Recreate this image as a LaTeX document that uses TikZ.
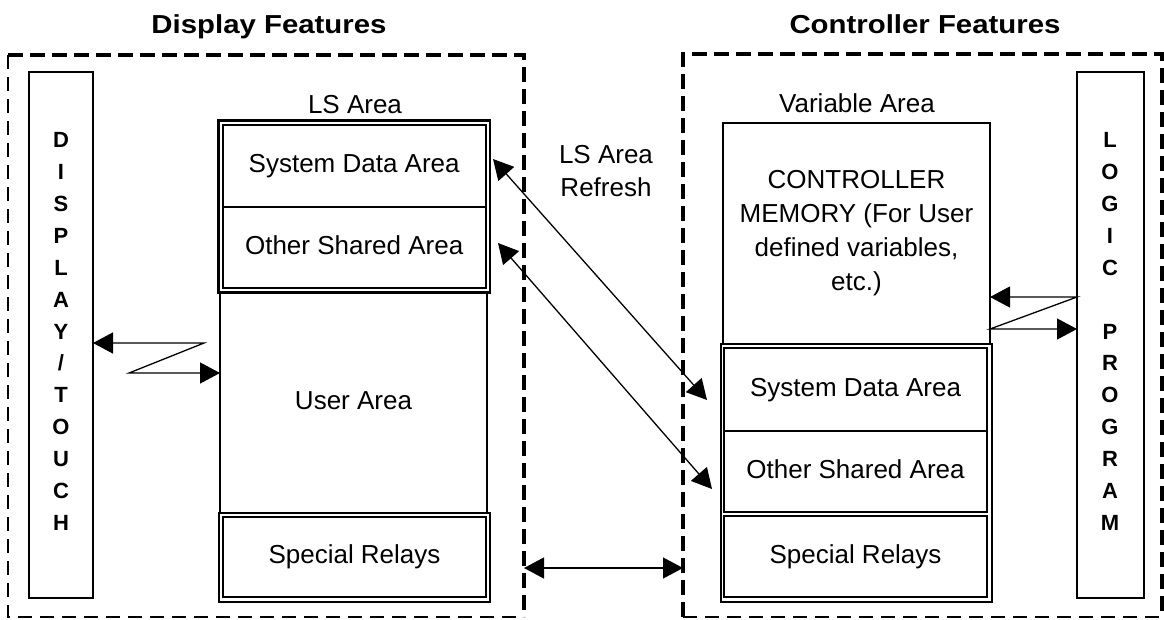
\documentclass[tikz,border=0pt]{standalone}
\usepackage{graphicx}
\usepackage{fontspec}
\setmainfont{Liberation Sans}
\usetikzlibrary{arrows.meta}
\begin{document}
\begin{tikzpicture}[x=1pt,y=-1pt,
  >={Triangle[length=20pt,width=21pt]},
  every node/.style={inner sep=0pt,outer sep=0pt},
  reg/.style={font=\fontsize{26}{34}\selectfont},
  ttl/.style={font=\fontsize{26}{30}\selectfont\bfseries,anchor=base},
  vlet/.style={font=\fontsize{22}{31.92}\selectfont\bfseries,align=center},
  colbox/.style={draw,line width=2.5pt},
  outerbox/.style={draw,line width=2.6pt},
  cell/.style={draw,line width=1.8pt,reg,text height=19pt,text depth=5.5pt},
  thickdash/.style={line width=3.6pt,dash pattern=on 15pt off 7pt},
  thindash/.style={line width=1.5pt,dash pattern=on 14pt off 8pt},
  conn/.style={line width=1.3pt},
]
\useasboundingbox (0,0) rectangle (1164,619);

% frames
\node[minimum width=516pt,minimum height=562pt] (leftFrame) at (266,336) {};
\node[minimum width=479pt,minimum height=563pt] (rightFrame) at (922.5,335.5) {};
\draw[thindash] (leftFrame.north west) -- (leftFrame.south west) -- (leftFrame.south east);
\draw[thickdash] (leftFrame.north west) -- (leftFrame.north east) -- (leftFrame.south east);
\draw[thindash] (rightFrame.south west) -- (rightFrame.south east);
\draw[thickdash] (rightFrame.south west) -- (rightFrame.north west) -- (rightFrame.north east) -- (rightFrame.south east);

% titles
\node[ttl] (titleL) at (269,33.3) {\scalebox{1.13}[1]{Display Features}};
\node[ttl] (titleR) at (925,33.3) {\scalebox{1.13}[1]{Controller Features}};

% display column
\node[colbox,minimum width=64pt,minimum height=526pt] (disp) at (61,335) {};
\node[vlet] (dispText) at (61,331.5) {D\\I\\S\\P\\L\\A\\Y\\/\\T\\O\\U\\C\\H};

% LS area stack
\node[reg,anchor=base] (lsLabel) at (355,113.3) {LS Area};
\node[outerbox,minimum width=271.7pt,minimum height=172pt] (lsOuter) at (354.2,206.7) {};
\node[cell,minimum width=263pt,minimum height=82.3pt] (lsSys) at (354.2,166.2) {System Data Area};
\node[cell,minimum width=263pt,minimum height=81pt] (lsOther) at (354.2,247.8) {Other Shared Area};
\node[cell,line width=2.5pt,minimum width=267pt,minimum height=220.3pt] (lsUser) at (353.5,402.9) {User Area};
\node[outerbox,minimum width=271pt,minimum height=89pt] (lsRelOuter) at (354.5,557.5) {};
\node[cell,minimum width=263pt,minimum height=80pt] (lsRel) at (354.5,557) {Special Relays};

% refresh label
\node[align=center,font=\fontsize{26}{33}\selectfont] (refresh) at (606,171.5) {LS Area\\Refresh};

% controller side
\node[reg,anchor=base] (varLabel) at (857,112.3) {Variable Area};
\node[draw,line width=2pt,reg,align=center,minimum width=267pt,minimum height=221pt] (mem) at (856.5,233.5) {CONTROLLER\\MEMORY (For User\\defined variables,\\etc.)};
\node[outerbox,minimum width=271pt,minimum height=258pt] (rsOuter) at (856.5,473) {};
\node[cell,minimum width=263pt,minimum height=83pt] (rsSys) at (855.5,389.5) {System Data Area};
\node[cell,minimum width=263pt,minimum height=81pt] (rsOther) at (855.5,471.5) {Other Shared Area};
\node[cell,minimum width=263pt,minimum height=81pt] (rsRel) at (855.5,556.5) {Special Relays};

% logic column
\node[colbox,minimum width=67pt,minimum height=526pt] (logic) at (1110.5,335) {};
\node[vlet] (logicText) at (1110,331.5) {L\\O\\G\\I\\C\\\mbox{}\\P\\R\\O\\G\\R\\A\\M};

% connectors
\coordinate (zl1) at (204,343);
\coordinate (zl2) at (129,373);
\draw[conn,<->] (disp.east |- zl1) -- (zl1) -- (zl2) -- (lsUser.west |- zl2);

\coordinate (zr1) at (1077,297);
\coordinate (zr2) at (990,329);
\draw[conn,<->] (mem.east |- zr1) -- (logic.west |- zr1) -- (mem.east |- zr2) -- (logic.west |- zr2);

\coordinate (a1s) at (493,159);
\coordinate (a1e) at (707,400);
\coordinate (a2s) at (498,243);
\coordinate (a2e) at (712,489);
\draw[conn,<->] (a1s) -- (a1e);
\draw[conn,<->] (a2s) -- (a2e);

\coordinate (yb) at (0,568);
\draw[conn,<->] (leftFrame.east |- yb) -- (rightFrame.west |- yb);
\end{tikzpicture}
\end{document}
